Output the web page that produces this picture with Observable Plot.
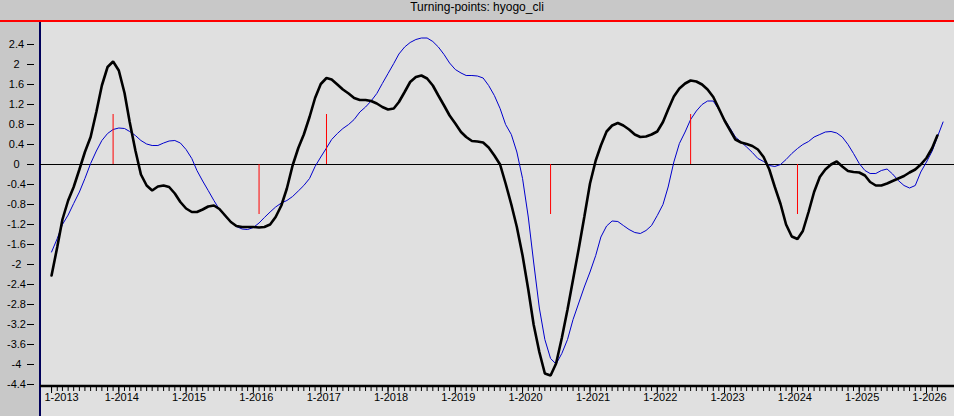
<!DOCTYPE html>
<html><head><meta charset="utf-8">
<script src="https://cdn.jsdelivr.net/npm/d3@7"></script>
<script src="https://cdn.jsdelivr.net/npm/@observablehq/plot@0.6"></script>
<style>
body{margin:0;background:#e0e0e0;}
#title{width:954px;height:20px;line-height:19px;background:#c8c8c8;border-bottom:2px solid #ff0000;font:12px "Liberation Sans",Arial,sans-serif;text-align:center;color:#000;}
#chart{width:954px;height:394px;background:linear-gradient(to right,#c8c8c8 0 39px,#00005a 39px 41px,#e0e0e0 41px);}
svg{display:block;}
</style></head><body>
<div id="title">Turning-points: hyogo_cli</div>
<div id="chart"></div>
<script>
// monthly values starting January 2013
const startYear = 2013;
const cliValues = [
-2.22,-1.65,-1.1,-0.72,-0.45,-0.1,0.25,0.55,1.05,1.58,
1.95,2.06,1.88,1.43,0.85,0.28,-0.2,-0.42,-0.52,-0.44,
-0.42,-0.45,-0.58,-0.75,-0.88,-0.95,-0.95,-0.9,-0.84,-0.82,
-0.89,-1.02,-1.15,-1.23,-1.25,-1.25,-1.25,-1.26,-1.25,-1.2,
-1.05,-0.82,-0.48,-0.02,0.33,0.6,0.95,1.33,1.61,1.73,
1.7,1.6,1.5,1.42,1.33,1.29,1.29,1.27,1.22,1.15,
1.1,1.12,1.25,1.45,1.65,1.75,1.78,1.72,1.58,1.38,
1.18,0.98,0.82,0.65,0.55,0.47,0.46,0.44,0.34,0.18,
0.0,-0.38,-0.8,-1.25,-1.82,-2.5,-3.2,-3.75,-4.18,-4.22,
-3.98,-3.47,-2.9,-2.3,-1.68,-1.05,-0.38,0.08,0.38,0.66,
0.78,0.83,0.78,0.7,0.6,0.55,0.56,0.6,0.66,0.85,
1.1,1.36,1.52,1.62,1.68,1.66,1.6,1.5,1.35,1.12,
0.88,0.68,0.5,0.44,0.41,0.37,0.3,0.15,-0.1,-0.45,
-0.79,-1.2,-1.44,-1.49,-1.33,-0.95,-0.55,-0.25,-0.1,0.0,
0.06,-0.04,-0.13,-0.15,-0.16,-0.22,-0.35,-0.42,-0.42,-0.38,
-0.33,-0.28,-0.23,-0.16,-0.1,0.0,0.13,0.33,0.58
];
const referenceValues = [
-1.75,-1.48,-1.2,-1.01,-0.78,-0.55,-0.28,0.02,0.27,0.48,
0.62,0.7,0.73,0.72,0.66,0.58,0.48,0.41,0.38,0.38,
0.43,0.47,0.48,0.43,0.3,0.12,-0.12,-0.33,-0.52,-0.72,
-0.9,-1.04,-1.15,-1.24,-1.29,-1.3,-1.26,-1.17,-1.06,-0.95,
-0.85,-0.77,-0.72,-0.64,-0.53,-0.42,-0.28,-0.04,0.15,0.33,
0.5,0.62,0.72,0.8,0.9,1.05,1.15,1.27,1.42,1.62,
1.82,2.02,2.21,2.35,2.44,2.5,2.53,2.53,2.46,2.35,
2.2,2.03,1.9,1.83,1.78,1.78,1.77,1.73,1.58,1.38,
1.12,0.8,0.6,0.25,-0.28,-1.05,-1.95,-2.87,-3.5,-3.88,
-3.99,-3.78,-3.5,-3.1,-2.77,-2.45,-2.15,-1.82,-1.45,-1.23,
-1.13,-1.14,-1.22,-1.3,-1.36,-1.38,-1.32,-1.22,-1.02,-0.8,
-0.45,0.05,0.42,0.65,0.9,1.07,1.2,1.27,1.27,1.1,
0.9,0.72,0.55,0.45,0.35,0.24,0.12,0.06,-0.02,-0.04,
0.0,0.1,0.22,0.32,0.4,0.46,0.55,0.6,0.65,0.66,
0.63,0.55,0.4,0.22,0.02,-0.12,-0.18,-0.18,-0.12,-0.09,
-0.19,-0.32,-0.42,-0.47,-0.42,-0.15,0.05,0.27,0.55,0.85
];
const turningDates = ["2013-12","2016-02","2017-02","2020-06","2022-07","2024-02"];
const turningSigns = [1,-1,1,-1,1,-1];
const yTicks = [2.4,2,1.6,1.2,0.8,0.4,0,-0.4,-0.8,-1.2,-1.6,-2,-2.4,-2.8,-3.2,-3.6,-4,-4.4];
const yTickLabels = ["2.4","2","1.6","1.2","0.8","0.4","0","-0.4","-0.8","-1.2","-1.6","-2","-2.4","-2.8","-3.2","-3.6","-4","-4.4"];
const yearLabels = ["1-2013","1-2014","1-2015","1-2016","1-2017","1-2018","1-2019","1-2020","1-2021","1-2022","1-2023","1-2024","1-2025","1-2026"];

const monthDate = i => new Date(Date.UTC(startYear, i, 1));
const parseYM = s => { const [y, m] = s.split("-").map(Number); return new Date(Date.UTC(y, m - 1, 1)); };
const cliRows = cliValues.map((v, i) => ({date: monthDate(i), value: v}));
const refRows = referenceValues.map((v, i) => ({date: monthDate(i), value: v}));
const turnRows = turningDates.map((d, i) => ({date: parseYM(d), sign: turningSigns[i]}));
const yearTicks = yearLabels.map(s => new Date(Date.UTC(+s.split("-")[1], 0, 1)));
const monthTicks = d3.utcMonth.range(new Date(Date.UTC(2013, 0, 1)), new Date(Date.UTC(2026, 3, 1)));
const xDomain = [new Date(Date.UTC(2012, 10, 2)), new Date(Date.UTC(2026, 5, 2))];
const font = "'Liberation Sans', Arial, sans-serif";

const chart = Plot.plot({
  width: 954, height: 394,
  marginLeft: 40, marginRight: 0, marginTop: 0, marginBottom: 32,
  style: {background: "transparent", fontFamily: font, fontSize: "11px", color: "#000", overflow: "visible"},
  x: {type: "utc", domain: xDomain, label: null},
  y: {domain: [-4.4, 2.84], label: null},
  marks: [
    Plot.ruleY([0], {stroke: "#000", strokeWidth: 1}),
    Plot.line(refRows, {x: "date", y: "value", stroke: "#0000cc", strokeWidth: 1}),
    Plot.line(cliRows, {x: "date", y: "value", stroke: "#000", strokeWidth: 2.6, strokeLinejoin: "miter"}),
    Plot.ruleX(turnRows, {x: "date", y1: 0, y2: "sign", stroke: "#ff0000", strokeWidth: 1}),
    Plot.ruleY([-4.4], {stroke: "#000", strokeWidth: 2.5, dy: 1.5}),
    Plot.axisY({ticks: yTicks, tickSize: 7, dx: -6, tickFormat: () => "", label: null, stroke: "#000"}),
    Plot.text(yTicks, {y: d => d, text: (d, i) => yTickLabels[i], frameAnchor: "left", dx: -24, textAnchor: "middle", fontSize: 11, fill: "#000"}),
    Plot.axisX({ticks: monthTicks, tickSize: 4, dy: 3, tickFormat: () => "", label: null, stroke: "#000"}),
    Plot.axisX({ticks: yearTicks, tickSize: 6, dy: 3, tickFormat: () => "", label: null, stroke: "#000"}),
    Plot.text(yearTicks.slice(0, 1), {x: d => d, text: (d, i) => yearLabels[i], frameAnchor: "bottom", dy: 16, dx: 10, fontSize: 11, fill: "#000"}),
    Plot.text(yearTicks.slice(1), {x: d => d, text: (d, i) => yearLabels[i + 1], frameAnchor: "bottom", dy: 16, dx: 3, fontSize: 11, fill: "#000"})
  ]
});
document.getElementById("chart").appendChild(chart);
</script>
</body></html>
